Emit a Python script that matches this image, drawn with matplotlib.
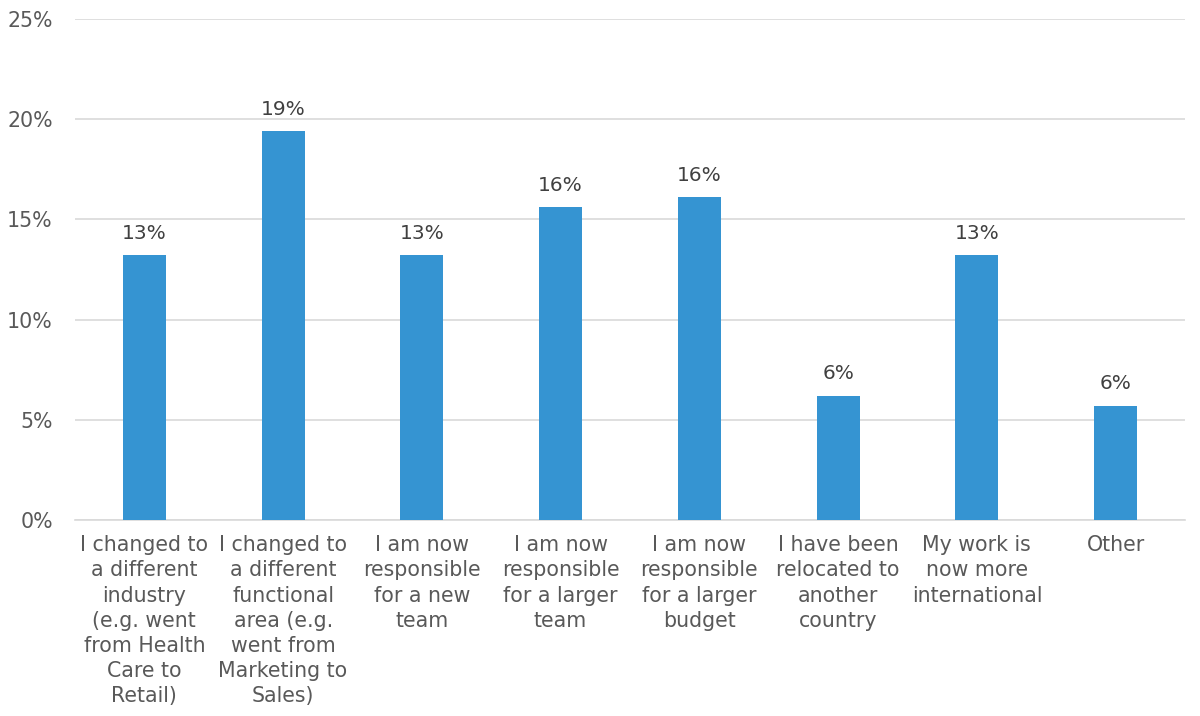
import matplotlib

matplotlib.use("Agg")
import matplotlib.pyplot as plt

categories = [
    "I changed to\na different\nindustry\n(e.g. went\nfrom Health\nCare to\nRetail)",
    "I changed to\na different\nfunctional\narea (e.g.\nwent from\nMarketing to\nSales)",
    "I am now\nresponsible\nfor a new\nteam",
    "I am now\nresponsible\nfor a larger\nteam",
    "I am now\nresponsible\nfor a larger\nbudget",
    "I have been\nrelocated to\nanother\ncountry",
    "My work is\nnow more\ninternational",
    "Other",
]
values = [13.2, 19.4, 13.2, 15.6, 16.1, 6.2, 13.2, 5.7]
labels = ["13%", "19%", "13%", "16%", "16%", "6%", "13%", "6%"]
yticks = [0, 5, 10, 15, 20, 25]

_BAR = "#3594d2"
_GRID = "#d9d9d9"
_TICK = "#595959"
_INK = "#404040"

fig = plt.figure(figsize=(12, 7.16), dpi=100)
ax = fig.add_axes([75 / 1200, 1 - 520 / 716, 1110 / 1200, 501 / 716])

x = list(range(len(categories)))
bars = ax.bar(x, values, width=0.31, color=_BAR, zorder=3)
for rect, lab in zip(bars, labels):
    ax.annotate(lab, (rect.get_x() + rect.get_width() / 2, rect.get_height()),
                xytext=(0, 9), textcoords="offset points",
                ha="center", va="bottom", fontsize=14.5, color=_INK)

ax.set_xlim(-0.5, len(categories) - 0.5)
ax.set_ylim(0, 25)
ax.set_yticks(yticks)
ax.set_yticklabels([f"{t}%" for t in yticks], fontsize=14.8, color=_TICK)
ax.set_xticks(x)
ax.set_xticklabels(categories, fontsize=14.8, color=_TICK, linespacing=1.32, va="top")
ax.tick_params(axis="both", length=0)
ax.tick_params(axis="y", pad=16)
ax.tick_params(axis="x", pad=11)
ax.grid(axis="y", color=_GRID, linewidth=1.2, zorder=0)
ax.set_axisbelow(True)
for spine in ("top", "right", "left"):
    ax.spines[spine].set_visible(False)
ax.spines["bottom"].set_color(_GRID)
ax.spines["bottom"].set_linewidth(1.2)

fig.savefig("out.png", dpi=100, facecolor="white")
